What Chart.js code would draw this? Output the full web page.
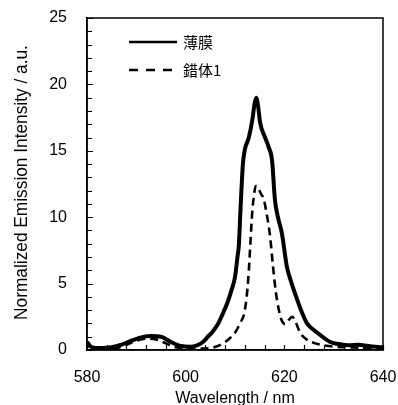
<!DOCTYPE html>
<html><head><meta charset="utf-8">
<script src="https://cdn.jsdelivr.net/npm/chart.js@4/dist/chart.umd.min.js"></script>
<style>html,body{margin:0;padding:0;background:#fff}#w{width:398px;height:405px}</style>
</head><body><div id="w"><canvas id="c"></canvas></div>
<script>
const filmWavelengths = [580,581,583,585,587,589,591,593,595,597,599,601,602.3,603.5,604.5,605.5,606.6,607.6,608.4,609.2,610.0,610.5,610.8,611.1,611.3,611.6,612.0,612.8,613.5,614.0,614.3,614.7,615.1,616.1,616.8,617.5,618.1,618.7,619.5,620.5,621.5,622.6,623.6,624.6,626.7,629.3,631,633,635,637,640];
const filmValues = [0.6,0.2,0.15,0.2,0.4,0.7,0.95,1.05,1.0,0.6,0.3,0.25,0.35,0.6,1.0,1.4,2.0,2.8,3.5,4.4,5.5,7.0,8.0,10.5,12.0,14.0,15.1,16.0,17.3,18.6,19.0,18.3,17.1,16.0,15.3,14.3,11.3,10.0,8.8,6.3,5.0,3.8,2.8,2.0,1.3,0.6,0.45,0.35,0.4,0.3,0.2];
const complexWavelengths = [580,583,586,588,590,592,594,596,598,600,603,605,606.5,608,609,610,611,612,612.7,613.1,613.5,613.8,614.2,614.6,615.2,615.8,616.3,617.1,617.7,618.3,618.9,619.5,620.2,621.0,621.6,622.3,623.2,624.5,626.3,628,630,633,636,640];
const complexValues = [0.3,0.1,0.15,0.4,0.7,0.85,0.8,0.5,0.2,0.15,0.1,0.15,0.3,0.6,0.9,1.3,2.0,3.0,5.4,7.9,10.4,11.5,12.35,12.3,11.8,11.4,10.5,8.6,6.3,4.3,3.0,2.2,1.95,2.3,2.5,2.1,1.3,0.8,0.5,0.35,0.25,0.2,0.15,0.1];
const seriesLabels = ['薄膜','錯体1'];
const xTicks = [580,600,620,640];
const yTicks = [0,5,10,15,20,25];
const yTitle = 'Normalized Emission Intensity / a.u.';

const pts = (xs, ys) => xs.map((x,i)=>({x:x,y:ys[i]}));

const boxPlugin = {
  id:'box',
  afterDraw(chart){
    const {ctx, chartArea:a, scales:{x,y}} = chart;
    ctx.save();
    ctx.strokeStyle='#000'; ctx.lineWidth=1.5;
    ctx.strokeRect(a.left, a.top, a.right-a.left, a.bottom-a.top);
    ctx.lineWidth=1.2;
    ctx.beginPath();
    for(let v=0; v<=25; v+=1){
      const py = Math.round(y.getPixelForValue(v))+0.5;
      const len = v%5===0 ? 6 : 5;
      ctx.moveTo(a.left, py); ctx.lineTo(a.left+len, py);
    }
    for(let v=580; v<=640; v+=4){
      const px = Math.round(x.getPixelForValue(v))+0.5;
      ctx.moveTo(px, a.bottom); ctx.lineTo(px, a.bottom-5);
    }
    ctx.stroke();
    // legend
    const ds = chart.data.datasets;
    const rows = [42, 70];
    ctx.font = '15px "Noto Sans CJK JP"';
    ctx.fillStyle='#000'; ctx.textBaseline='middle';
    ds.forEach((d,i)=>{
      ctx.beginPath();
      ctx.lineWidth = 2.6;
      ctx.setLineDash(i===1 ? [9,8] : []);
      ctx.moveTo(129, rows[i]); ctx.lineTo(177, rows[i]);
      ctx.stroke();
      ctx.setLineDash([]);
      ctx.fillText(d.label, 183, rows[i]);
    });
    // y title (condensed)
    ctx.font = '19px "Liberation Sans"';
    ctx.textAlign = 'center'; ctx.textBaseline = 'alphabetic';
    ctx.translate(27, 182.5);
    ctx.rotate(-Math.PI/2);
    ctx.scale(0.91, 1);
    ctx.fillText(yTitle, 0, 0);
    ctx.restore();
  }
};

new Chart(document.getElementById('c'), {
  type:'scatter',
  data:{datasets:[
    {label:seriesLabels[0], data:pts(filmWavelengths, filmValues), showLine:true, borderColor:'#000', borderWidth:4, pointRadius:0, cubicInterpolationMode:'monotone', fill:false},
    {label:seriesLabels[1], data:pts(complexWavelengths, complexValues), showLine:true, borderColor:'#000', borderWidth:2.6, borderDash:[8,5], pointRadius:0, cubicInterpolationMode:'monotone', fill:false}
  ]},
  options:{
    responsive:true, maintainAspectRatio:false, animation:false,
    layout:{padding:{top:18,right:15,left:0,bottom:0}},
    plugins:{legend:{display:false}, tooltip:{enabled:false}},
    scales:{
      x:{type:'linear', min:580, max:640,
        afterBuildTicks(s){ s.ticks = xTicks.map(v=>({value:v})); },
        afterFit(s){ s.height = 55; s.paddingLeft = 0; s.paddingRight = 0; },
        grid:{display:false, drawTicks:false},
        border:{display:true,color:'#000',width:1.5},
        ticks:{color:'#000', font:{family:'Liberation Sans', size:16}, padding:18, maxRotation:0},
        title:{display:true, text:'Wavelength / nm', color:'#000', font:{family:'Liberation Sans', size:16}, padding:{top:4,bottom:-3}}
      },
      y:{min:0, max:25,
        afterBuildTicks(s){ s.ticks = yTicks.map(v=>({value:v})); },
        afterFit(s){ s.width = 87; s.paddingTop = 0; s.paddingBottom = 0; },
        grid:{display:false, drawTicks:false},
        border:{display:true,color:'#000',width:1.5},
        ticks:{color:'#000', font:{family:'Liberation Sans', size:16}, padding:20}
      }
    }
  },
  plugins:[boxPlugin]
});
</script></body></html>
